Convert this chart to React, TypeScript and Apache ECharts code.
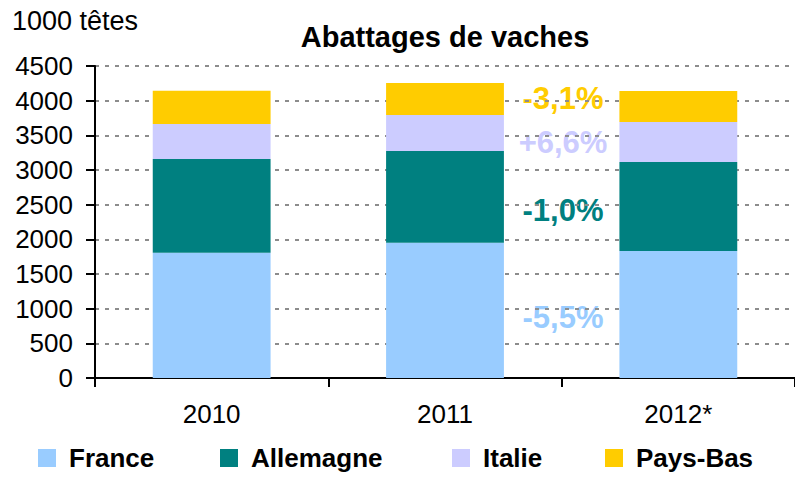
import React, { useEffect, useRef } from "react";
import * as echarts from "echarts";

const categories = ["2010", "2011", "2012*"];
const france = [1805, 1950, 1830];
const allemagne = [1355, 1325, 1287];
const italie = [505, 518, 577];
const paysBas = [478, 462, 447];
const yTicks = [0, 500, 1000, 1500, 2000, 2500, 3000, 3500, 4000, 4500];
const variations = [
  { text: "-3,1%", color: "#FFCC00", y: 98 },
  { text: "+6,6%", color: "#CCCCFF", y: 142 },
  { text: "-1,0%", color: "#008080", y: 210 },
  { text: "-5,5%", color: "#99CCFF", y: 317 },
];

const FONT = "Liberation Sans, Arial, sans-serif";
const seriesDefs = [
  { name: "France", data: france, color: "#99CCFF" },
  { name: "Allemagne", data: allemagne, color: "#008080" },
  { name: "Italie", data: italie, color: "#CCCCFF" },
  { name: "Pays-Bas", data: paysBas, color: "#FFCC00" },
];
const legendLefts = [38, 220, 452, 605];

export default function App() {
  const ref = useRef<HTMLDivElement>(null);
  useEffect(() => {
    if (!ref.current) return;
    const chart = echarts.init(ref.current, undefined, { renderer: "svg" });
    chart.setOption({
      animation: false,
      backgroundColor: "#ffffff",
      textStyle: { fontFamily: FONT },
      grid: { left: 95, right: 0, top: 66, bottom: 99, containLabel: false },
      xAxis: {
        type: "category",
        data: categories,
        axisLine: { lineStyle: { color: "#000", width: 2 } },
        axisTick: { show: true, length: 9, interval: 0, lineStyle: { color: "#000", width: 2 } },
        axisLabel: { color: "#000", fontSize: 26, fontFamily: FONT, margin: 23 },
      },
      yAxis: {
        type: "value",
        min: yTicks[0],
        max: yTicks[yTicks.length - 1],
        interval: 500,
        axisLine: { show: true, lineStyle: { color: "#000", width: 2 } },
        axisTick: { show: true, length: 9, lineStyle: { color: "#000", width: 2 } },
        axisLabel: {
          color: "#000",
          fontSize: 26,
          fontFamily: FONT,
          margin: 22,
          formatter: (v: number) => String(v),
        },
        splitLine: { show: true, lineStyle: { color: "#8c8c8c", width: 2, type: [4, 6] } },
      },
      legend: seriesDefs.map((s, i) => ({
        data: [s.name],
        left: legendLefts[i],
        top: 444,
        padding: 0,
        itemWidth: 18,
        itemHeight: 18,
        icon: "rect",
        textStyle: {
          fontSize: 26,
          lineHeight: 28,
          fontWeight: "bold",
          color: "#000",
          fontFamily: FONT,
          padding: [0, 0, 0, 8],
        },
      })),
      series: seriesDefs.map((s) => ({
        name: s.name,
        type: "bar",
        stack: "total",
        data: s.data,
        barWidth: "50.5%",
        itemStyle: { color: s.color },
      })),
      graphic: [
        {
          type: "text",
          left: 12,
          top: 7,
          style: { text: "1000 têtes", fontSize: 27, fill: "#000", fontFamily: FONT },
        },
        {
          type: "text",
          x: 445,
          y: 37,
          style: {
            text: "Abattages de vaches",
            fontSize: 29,
            fontWeight: "bold",
            fill: "#000",
            fontFamily: FONT,
            align: "center",
            verticalAlign: "middle",
          },
        },
        ...variations.map((v) => ({
          type: "text",
          x: 563,
          y: v.y,
          style: {
            text: v.text,
            fontSize: 31,
            fontWeight: "bold",
            fill: v.color,
            fontFamily: FONT,
            align: "center",
            verticalAlign: "middle",
          },
        })),
      ],
    });
    return () => chart.dispose();
  }, []);
  return <div ref={ref} style={{ width: 795, height: 477, position: "absolute", left: 0, top: 0 }} />;
}
